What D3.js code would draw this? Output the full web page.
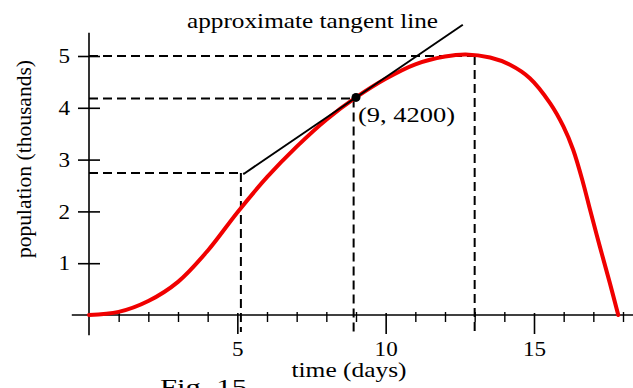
<!DOCTYPE html>
<html>
<head>
<meta charset="utf-8">
<script src="https://cdn.jsdelivr.net/npm/d3@7"></script>
<style>
  html, body { margin: 0; padding: 0; background: #fff; }
  svg { display: block; }
  text { font-family: "Liberation Serif", "Times New Roman", Times, serif; fill: #000; }
</style>
</head>
<body>
<svg id="chart" width="633" height="388"></svg>
<script>
// ---- data ----
const days       = [0, 1, 2, 3, 4, 5, 6, 7, 8, 9, 10, 11, 12, 12.7, 13.52, 14.19, 14.86, 15.54, 15.99, 16.32, 16.66, 16.89, 17.22, 17.56, 17.84];
const population = [0, 0.06, 0.27, 0.64, 1.24, 1.98, 2.66, 3.25, 3.77, 4.2, 4.56, 4.84, 4.99, 5.03, 4.97, 4.83, 4.57, 4.09, 3.64, 3.19, 2.54, 2.03, 1.32, 0.61, 0];
const tangentX   = [5.2, 12.6];
const tangentPt  = [9, 4.2];
const tangentSlope = 0.39;
const guideH = [ {y: 5.0, x: 13.35}, {y: 4.18, x: 8.95}, {y: 2.74, x: 5.2} ];
const guideV = [ {x: 5.12, y: 2.74}, {x: 8.92, y: 4.18}, {x: 13.0, y: 5.0} ];
const xMinorTicks = [1,2,3,4,6,7,8,9,11,12,13,14,16,17,18];
const xMajorTicks = [5,10,15];
const yTicks = [1,2,3,4,5];
const xAxisExtent = [-0.58, 18.6];
const yAxisExtent = [-0.39, 5.45];
const guideBottom = -0.33;
const pointLabel = "(9, 4200)";
const title = "approximate tangent line";
const xLabel = "time (days)";
const yLabel = "population (thousands)";
const figLabel = "Fig. 15";

// ---- scales ----
const svg = d3.select("#chart");
const x = d3.scaleLinear().domain([0, 18]).range([89, 623]);
const y = d3.scaleLinear().domain([0, 5]).range([315, 56]);

function stretch(sel, k) {
  sel.each(function() {
    const w = this.getComputedTextLength();
    d3.select(this).attr("textLength", w * k).attr("lengthAdjust", "spacingAndGlyphs");
  });
}

// ---- dashed guides ----
const dash = "9,5";
svg.append("g").selectAll("line").data(guideH).join("line")
  .attr("x1", x(0)).attr("x2", d => x(d.x))
  .attr("y1", d => y(d.y)).attr("y2", d => y(d.y))
  .attr("stroke", "#000").attr("stroke-width", 2).attr("stroke-dasharray", dash);
svg.append("g").selectAll("line").data(guideV).join("line")
  .attr("x1", d => x(d.x)).attr("x2", d => x(d.x))
  .attr("y1", d => y(d.y)).attr("y2", y(guideBottom))
  .attr("stroke", "#000").attr("stroke-width", 2).attr("stroke-dasharray", dash);

// ---- axes ----
svg.append("line")
  .attr("x1", x(xAxisExtent[0])).attr("x2", x(xAxisExtent[1]))
  .attr("y1", y(0)).attr("y2", y(0)).attr("stroke", "#000").attr("stroke-width", 1.6);
svg.append("line")
  .attr("x1", x(0)).attr("x2", x(0))
  .attr("y1", y(yAxisExtent[0])).attr("y2", y(yAxisExtent[1])).attr("stroke", "#000").attr("stroke-width", 1.6);

const gMinor = svg.append("g").attr("transform", `translate(0,${y(0)})`)
  .call(d3.axisBottom(x).tickValues(xMinorTicks).tickSize(7).tickFormat(""));
gMinor.select(".domain").remove();
gMinor.selectAll(".tick line").attr("y1", -3).attr("stroke-width", 1.4);

const gMajor = svg.append("g").attr("transform", `translate(0,${y(0)})`)
  .call(d3.axisBottom(x).tickValues(xMajorTicks).tickSize(19).tickPadding(7).tickFormat(d3.format("d")));
gMajor.select(".domain").remove();
gMajor.selectAll(".tick line").attr("y1", -2).attr("stroke-width", 1.6);
gMajor.selectAll("text").attr("font-size", 21).attr("font-family", null);
stretch(gMajor.selectAll("text"), 1.1);

const gY = svg.append("g").attr("transform", `translate(${x(0)},0)`)
  .call(d3.axisLeft(y).tickValues(yTicks).tickSize(11).tickPadding(8).tickFormat(d3.format("d")));
gY.select(".domain").remove();
gY.selectAll(".tick line").attr("x1", 11).attr("stroke-width", 1.6);
gY.selectAll("text").attr("font-size", 21).attr("font-family", null);
stretch(gY.selectAll("text"), 1.1);

// ---- curve ----
const pts = days.map((d, i) => [d, population[i]]);
svg.append("path").datum(pts)
  .attr("fill", "none").attr("stroke", "#f00000").attr("stroke-width", 4)
  .attr("stroke-linecap", "round")
  .attr("d", d3.line().x(d => x(d[0])).y(d => y(d[1])).curve(d3.curveCatmullRom.alpha(0.5)));

// ---- tangent ----
const tanPts = tangentX.map(t => [t, tangentPt[1] + tangentSlope * (t - tangentPt[0])]);
svg.append("path").datum(tanPts)
  .attr("fill", "none").attr("stroke", "#000").attr("stroke-width", 2)
  .attr("d", d3.line().x(d => x(d[0])).y(d => y(d[1])));

svg.append("circle").attr("cx", x(tangentPt[0])).attr("cy", y(tangentPt[1])).attr("r", 4.5).attr("fill", "#000");

// ---- text ----
svg.append("text").attr("x", 312.5).attr("y", 28).attr("text-anchor", "middle")
  .attr("font-size", 21).text(title).attr("textLength", 251).attr("lengthAdjust", "spacingAndGlyphs");
svg.append("text").attr("x", 358).attr("y", 122).attr("font-size", 21).text(pointLabel)
  .attr("textLength", 97).attr("lengthAdjust", "spacingAndGlyphs");
svg.append("text").attr("x", 349).attr("y", 377).attr("text-anchor", "middle").attr("font-size", 21).text(xLabel)
  .attr("textLength", 115).attr("lengthAdjust", "spacingAndGlyphs");
svg.append("text").attr("x", 160).attr("y", 394).attr("font-size", 21).text(figLabel)
  .attr("textLength", 87).attr("lengthAdjust", "spacingAndGlyphs");
svg.append("text").attr("transform", "translate(31,159) rotate(-90)").attr("text-anchor", "middle")
  .attr("font-size", 21).text(yLabel).attr("textLength", 198).attr("lengthAdjust", "spacingAndGlyphs");
</script>
</body>
</html>
